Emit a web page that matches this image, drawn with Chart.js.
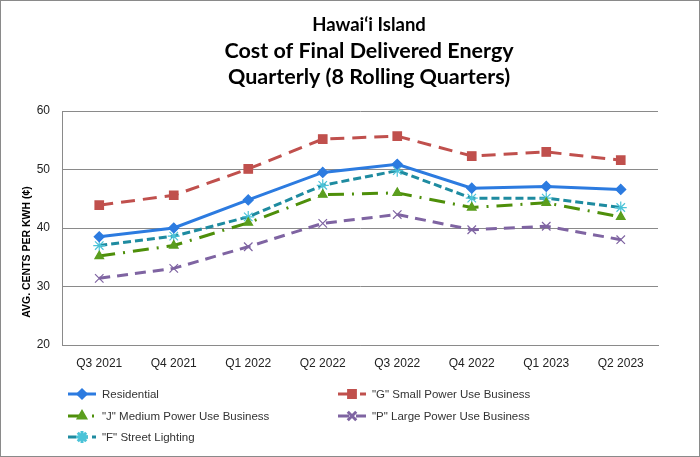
<!DOCTYPE html>
<html>
<head>
<meta charset="utf-8">
<script src="https://cdn.jsdelivr.net/npm/chart.js@4/dist/chart.umd.min.js"></script>
<style>
  body { margin: 0; background: #fff; }
  #wrap { width: 700px; height: 457px; }
</style>
</head>
<body>
<div id="wrap"><canvas id="cost" width="700" height="457"></canvas></div>
<script>
let quarters = ['Q3 2021', 'Q4 2021', 'Q1 2022', 'Q2 2022', 'Q3 2022', 'Q4 2022', 'Q1 2023', 'Q2 2023']
let residential = [38.5, 40.0, 44.8, 49.5, 50.9, 46.8, 47.1, 46.6]
let smallPower = [43.9, 45.6, 50.1, 55.2, 55.7, 52.3, 53.0, 51.6]
let mediumPower = [35.2, 37.0, 40.9, 45.7, 46.0, 43.5, 44.3, 41.9]
let largePower = [31.4, 33.1, 36.8, 40.8, 42.3, 39.7, 40.3, 38.0]
let streetLight = [37.0, 38.6, 41.9, 47.3, 49.8, 45.1, 45.1, 43.5]
let yTicks = [20, 30, 40, 50, 60]

let titleLines = ['Hawai\u2018i Island', 'Cost of Final Delivered Energy', 'Quarterly (8 Rolling Quarters)']
let yTitle = 'AVG. CENTS PER KWH (\u00a2)'

// legend slot for each dataset: [column x, row y]
let legendSlots = [[68, 394], [338, 394], [68, 416], [338, 416], [68, 437]]

let tickFont = { family: 'Liberation Sans', size: 12 }

// draws frame, titles, y title and the two-column legend
let decor = {
    id: 'decor',
    afterDraw(chart) {
        let ctx = chart.ctx
        ctx.save()
        ctx.strokeStyle = '#8a8a8a'
        ctx.lineWidth = 1
        ctx.strokeRect(0.5, 0.5, 699, 456)

        ctx.fillStyle = '#000'
        ctx.textAlign = 'center'
        ctx.textBaseline = 'middle'
        let sizes = [18.5, 21.5, 21.5]
        let ys = [25, 51, 77]
        titleLines.forEach((t, i) => {
            ctx.font = 'bold ' + sizes[i] + 'px Lato'
            ctx.fillText(t, 369, ys[i])
        })

        ctx.save()
        ctx.translate(27, 252)
        ctx.rotate(-Math.PI / 2)
        ctx.font = 'bold 10.5px "Liberation Sans"'
        ctx.fillText(yTitle, 0, 0)
        ctx.restore()

        ctx.textAlign = 'left'
        ctx.font = '11.5px "Liberation Sans"'
        chart.data.datasets.forEach((ds, i) => {
            let [x, y] = legendSlots[i]
            ctx.save()
            ctx.strokeStyle = ds.borderColor
            ctx.lineWidth = 3
            ctx.setLineDash(ds.borderDash || [])
            ctx.beginPath()
            ctx.moveTo(x, y)
            ctx.lineTo(x + 28, y)
            ctx.stroke()
            ctx.setLineDash([])
            ctx.fillStyle = ds.pointBackgroundColor
            ctx.strokeStyle = ds.pointBorderColor
            let filled = ['rect', 'triangle', 'rectRot'].includes(ds.pointStyle)
            Chart.helpers.drawPoint(ctx, {
                pointStyle: ds.pointStyle,
                radius: filled ? ds.pointRadius * 0.8 : ds.pointRadius,
                rotation: 0,
                borderWidth: 1
            }, x + 14, y)
            ctx.restore()
            ctx.fillStyle = '#333'
            ctx.fillText(ds.label, x + 34, y + 1)
        })
        ctx.restore()
    }
}

let costChart = new Chart(document.getElementById('cost').getContext('2d'), {
    type: 'line',
    data: {
        labels: quarters,
        datasets: [{
            label: 'Residential',
            data: residential,
            borderColor: '#2c7be0',
            pointBackgroundColor: '#2c7be0',
            pointBorderColor: '#2c7be0',
            pointStyle: 'rectRot',
            pointRadius: 5
        }, {
            label: '"G" Small Power Use Business',
            data: smallPower,
            borderColor: '#c0504d',
            borderDash: [14, 8],
            pointBackgroundColor: '#c0504d',
            pointBorderColor: '#c0504d',
            pointStyle: 'rect',
            pointRadius: 6
        }, {
            label: '"J" Medium Power Use Business',
            data: mediumPower,
            borderColor: '#4e8f0a',
            borderDash: [16, 8, 2, 8],
            pointBackgroundColor: '#5b9e1e',
            pointBorderColor: '#5b9e1e',
            pointStyle: 'triangle',
            pointRadius: 5
        }, {
            label: '"P" Large Power Use Business',
            data: largePower,
            borderColor: '#7f64a2',
            borderDash: [11, 7],
            pointBackgroundColor: '#7f64a2',
            pointBorderColor: '#7f64a2',
            pointStyle: 'crossRot',
            pointRadius: 6
        }, {
            label: '"F" Street Lighting',
            data: streetLight,
            borderColor: '#1e8ba0',
            borderDash: [8, 4],
            pointBackgroundColor: '#4bc3d8',
            pointBorderColor: '#4bc3d8',
            pointStyle: 'star',
            pointRadius: 6
        }]
    },
    options: {
        responsive: false,
        animation: false,
        events: [],
        elements: {
            line: { borderWidth: 3, tension: 0, fill: false },
            point: { borderWidth: 1.2 }
        },
        layout: { padding: { top: 111, right: 42, bottom: 72, left: 0 } },
        plugins: {
            legend: { display: false },
            title: { display: false },
            tooltip: { enabled: false }
        },
        scales: {
            x: {
                offset: true,
                grid: { display: false, drawTicks: false },
                border: { color: '#8a8a8a', width: 1 },
                ticks: { color: '#222', font: tickFont, padding: 11, maxRotation: 0 },
                afterFit(scale) { scale.height = 40 }
            },
            y: {
                min: 20,
                max: 60,
                afterBuildTicks(scale) { scale.ticks = yTicks.map(v => ({ value: v })) },
                grid: { color: '#8a8a8a', lineWidth: 1, drawTicks: false },
                border: { display: true, color: '#8a8a8a', width: 1 },
                ticks: { color: '#222', font: tickFont, padding: 12 },
                afterFit(scale) { scale.width = 62 }
            }
        }
    },
    plugins: [decor]
})
</script>
</body>
</html>
